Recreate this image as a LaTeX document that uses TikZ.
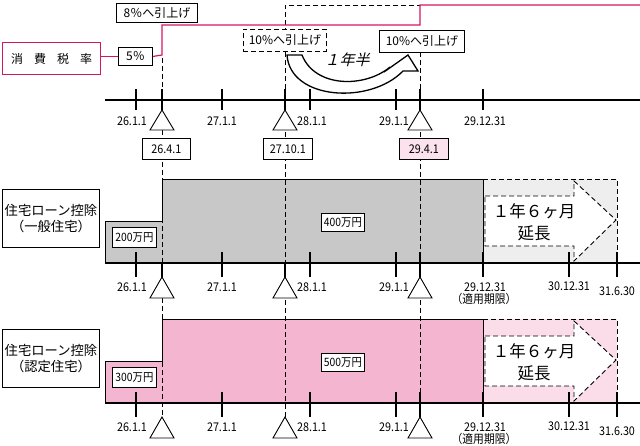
\documentclass[tikz,border=0pt]{standalone}
\usepackage{fontspec}
\setmainfont{Noto Sans CJK JP}
\newfontfamily\condf[FakeStretch=0.9]{Noto Sans CJK JP}
\newfontfamily\slntf[FakeSlant=0.25]{Noto Sans CJK JP}
\definecolor{mag}{RGB}{212,22,98}
\definecolor{gmain}{RGB}{200,200,200}
\definecolor{glight}{RGB}{238,238,238}
\definecolor{pmain}{RGB}{244,181,208}
\definecolor{plight}{RGB}{251,220,233}
\definecolor{pbox}{RGB}{252,226,237}
\newcommand\fs[1]{\fontsize{#1}{#1}\selectfont}
\newcommand\secfills[2]{%
  \fill[#1] (105,221) rectangle (162,263);
  \fill[#1] (162,179) rectangle (483,263);
  \fill[#2] (483,179) rectangle (617,263);
}
\newcommand\secrest[4]{%
  \draw[edge] (105,263) -- (105,221) -- (162,221) -- (162,179) -- (483,179) -- (483,263);
  \draw[dsh] (483,179) -- (617,179) -- (617,263);
  \draw[dsh,fill=white] (485,196) -- (574,196) -- (574,181) -- (616,220) -- (574,261) -- (574,246) -- (485,246) -- cycle;
  \node[align=center,font=\fs{16.5},inner sep=0pt] (ext#4) at (534,222) {１年６ヶ月\\[5pt]延長};
  \node[bx,minimum width=97pt,minimum height=58pt,align=center,font=\fontsize{13.3}{16}\selectfont] (lab#4) at (2,189) {住宅ローン控除\\#1};
  \node[bx,minimum width=44pt,minimum height=20pt,font=\condf\fs{11.5}] (sa#4) at (112,227) {#2};
  \node[bx,minimum width=43pt,minimum height=18pt,font=\condf\fs{11.5}] (la#4) at (321,213) {#3};
  \draw[tl] (105,263) -- (640,263);
  \foreach \x in {136,222,310,396,420,483,569,617} \draw[tk] (\x,252) -- (\x,277);
  \foreach \x in {162,285,420} \draw[tri] (\x,277) -- (\x-12,298) -- (\x+12,298) -- cycle;
  \node[dt] (a#4) at (132,287) {26.1.1};
  \node[dt] (b#4) at (222,287) {27.1.1};
  \node[dt] (c#4) at (312,287) {28.1.1};
  \node[dt] (d#4) at (394,287) {29.1.1};
  \node[dt] (e#4) at (485,287) {29.12.31};
  \node[dt] (f#4) at (484,299) {（適用期限）};
  \node[dt] (g#4) at (569,286) {30.12.31};
  \node[dt] (h#4) at (617,291) {31.6.30};
}
\begin{document}
\begin{tikzpicture}[x=1pt,y=-1pt,
  bx/.style={draw=black,line width=0.9pt,fill=white,inner sep=0pt,anchor=north west},
  dsh/.style={line width=0.9pt,dash pattern=on 5pt off 3pt},
  tl/.style={line width=2.6pt},
  tk/.style={line width=2.4pt},
  tri/.style={draw=black,line width=0.9pt,fill=white},
  dt/.style={font=\condf\fs{12},inner sep=0pt},
  edge/.style={line width=0.9pt}
]
\useasboundingbox (0,0) rectangle (640,445);
% section fills
\secfills{gmain}{glight}
\begin{scope}[yshift=-140pt]
\secfills{pmain}{plight}
\end{scope}
% dashed guide lines
\draw[dsh] (162,58) -- (162,417);
\draw[dsh] (420,417) -- (420,52) ;
\draw[dsh] (285,417) -- (285,5) -- (420,5);
% top part
\node[bx,draw=mag,line width=1.4pt,minimum width=98pt,minimum height=32pt] (tax) at (2,42) {\fs{12}消\hspace{11pt}費\hspace{11pt}税\hspace{11pt}率};
\node[bx,minimum width=34pt,minimum height=18pt] (five) at (118,47) {\fs{12}5％};
\node[bx,minimum width=81pt,minimum height=19pt] (eight) at (116,3) {\fs{12}8％へ引上げ};
\coordinate (m1) at (162,55);
\coordinate (m2) at (162,25);
\coordinate (m3) at (420,25);
\coordinate (m4) at (420,5);
\coordinate (m5) at (640,5);
\draw[mag,line width=1.2pt] (five.west) -- (five.west -| tax.east);
\draw[mag,line width=1.2pt] (five.east) -- (m1) -- (m2) -- (m3) -- (m4) -- (m5);
\node[bx,dsh,minimum width=83pt,minimum height=22pt] (ten1) at (243,29) {\fs{12}10\%へ引上げ};
\node[bx,minimum width=85pt,minimum height=22pt] (ten2) at (379,30) {\fs{12}10\%へ引上げ};
% curved arrow
\draw[line width=1.3pt,fill=white,line join=miter] (287,55) -- (302,55) .. controls (315,88) and (365,88) .. (390,67) -- (384,72) -- (408,55) -- (418,71) -- (403,71) .. controls (370,105) and (290,100) .. (287,55) -- cycle;
\node[font=\slntf\fs{15},inner sep=0pt] (yr) at (347,60) {１年半};
% timeline 1
\draw[tl] (105,100) -- (640,100);
\foreach \x in {136,162,222,285,310,396,420,483} \draw[tk] (\x,89) -- (\x,110);
\foreach \x in {162,285,420} \draw[tri] (\x,110) -- (\x-12,130) -- (\x+12,130) -- cycle;
\node[dt] (t1a) at (132,121) {26.1.1};
\node[dt] (t1b) at (222,121) {27.1.1};
\node[dt] (t1c) at (312,121) {28.1.1};
\node[dt] (t1d) at (394,121) {29.1.1};
\node[dt] (t1e) at (485,121) {29.12.31};
\node[bx,minimum width=48pt,minimum height=21pt,font=\condf\fs{12}] (d1) at (142,138) {26.4.1};
\node[bx,minimum width=49pt,minimum height=21pt,font=\condf\fs{12}] (d2) at (263,138) {27.10.1};
\node[bx,fill=pbox,minimum width=49pt,minimum height=21pt,font=\condf\fs{12}] (d3) at (399,138) {29.4.1};
% section 2
\draw[tk] (162,263) -- (162,277);
\draw[tk] (285,263) -- (285,277);
\secrest{（一般住宅）}{200万円}{400万円}{s}
% section 3
\begin{scope}[yshift=-140pt]
\secrest{（認定住宅）}{300万円}{500万円}{p}
\end{scope}
\end{tikzpicture}
\end{document}
